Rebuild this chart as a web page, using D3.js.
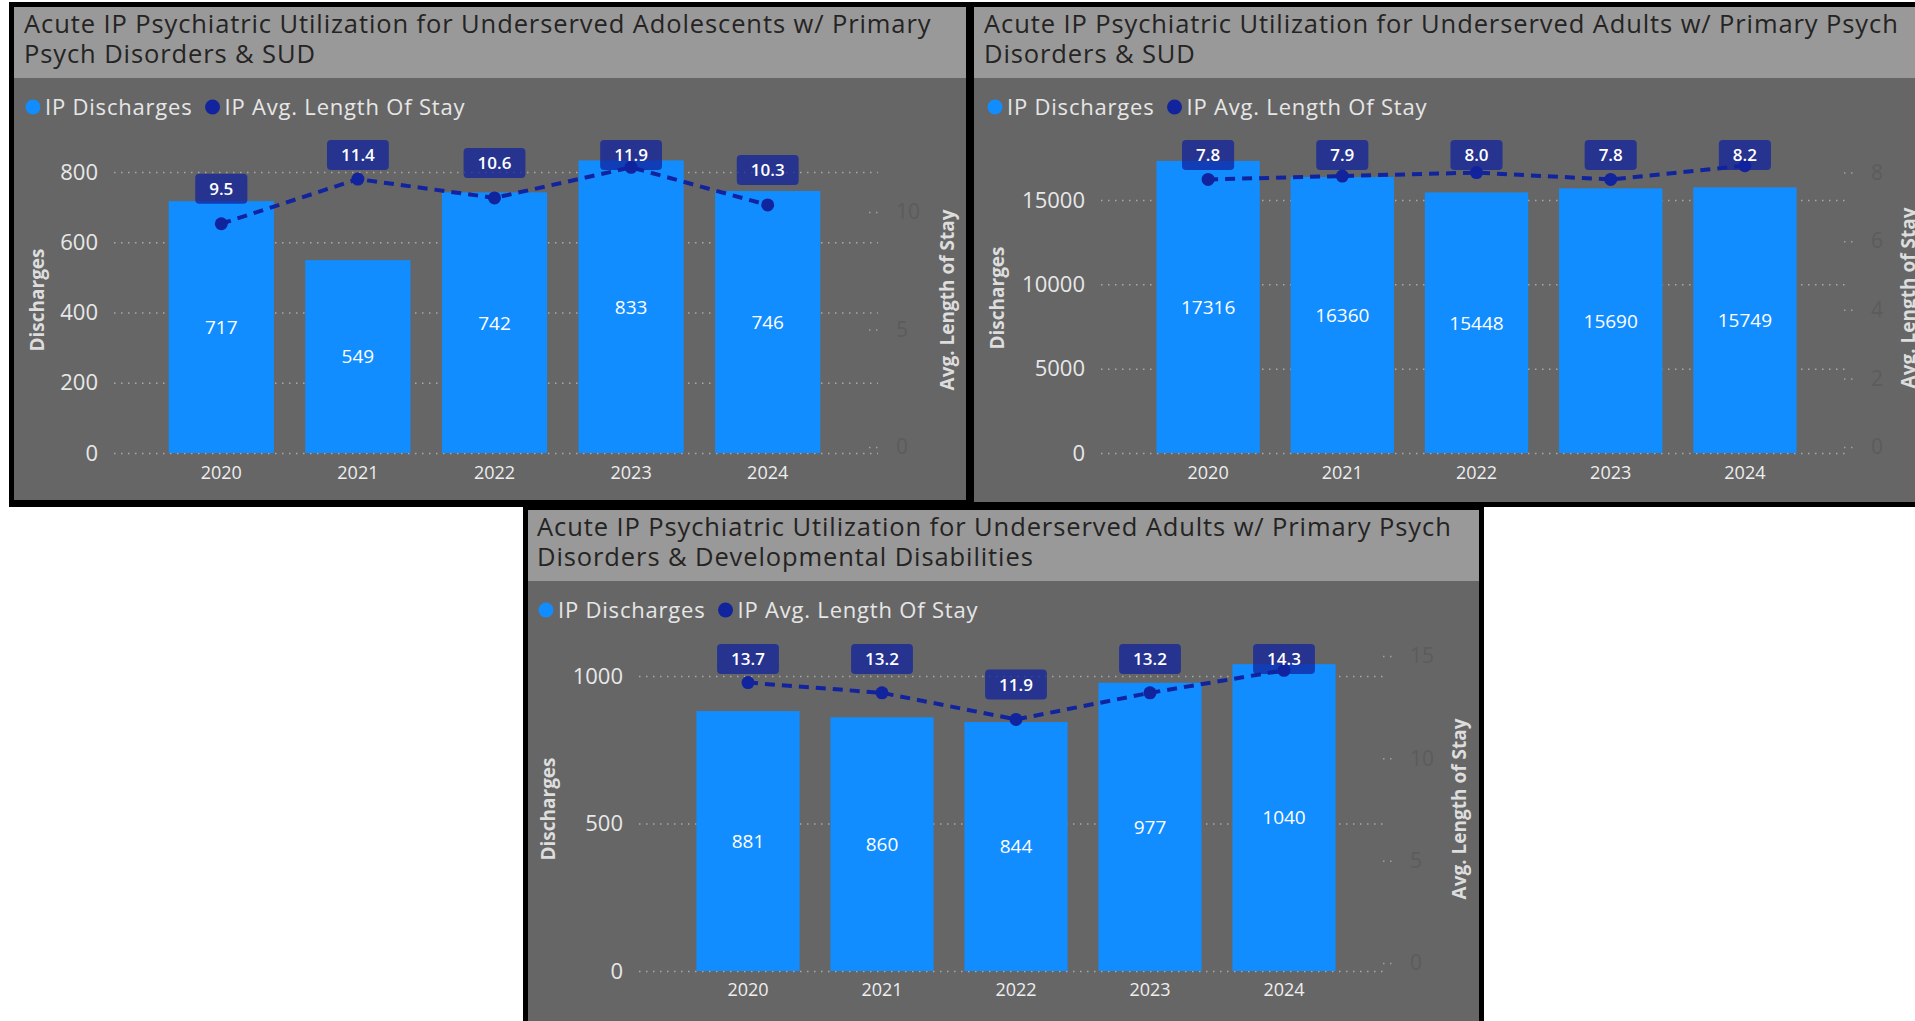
<!DOCTYPE html>
<html>
<head>
<meta charset="utf-8">
<script src="https://cdn.jsdelivr.net/npm/d3@7"></script>
<style>
  body { margin: 0; background: #ffffff; }
  svg { display: block; }
</style>
</head>
<body>
<div id="dashboard"></div>
<script>
// ---- data ----
const years = ["2020", "2021", "2022", "2023", "2024"];

const adolTitle = ["Acute IP Psychiatric Utilization for Underserved Adolescents w/ Primary", "Psych Disorders & SUD"];
const adolDischarges = [717, 549, 742, 833, 746];
const adolLos = [9.5, 11.4, 10.6, 11.9, 10.3];
const adolLeftTicks = [0, 200, 400, 600, 800];
const adolRightTicks = [0, 5, 10];

const sudTitle = ["Acute IP Psychiatric Utilization for Underserved Adults w/ Primary Psych", "Disorders & SUD"];
const sudDischarges = [17316, 16360, 15448, 15690, 15749];
const sudLos = [7.8, 7.9, 8.0, 7.8, 8.2];
const sudLeftTicks = [0, 5000, 10000, 15000];
const sudRightTicks = [0, 2, 4, 6, 8];

const ddTitle = ["Acute IP Psychiatric Utilization for Underserved Adults w/ Primary Psych", "Disorders & Developmental Disabilities"];
const ddDischarges = [881, 860, 844, 977, 1040];
const ddLos = [13.7, 13.2, 11.9, 13.2, 14.3];
const ddLeftTicks = [0, 500, 1000];
const ddRightTicks = [0, 5, 10, 15];

const legendNames = ["IP Discharges", "IP Avg. Length Of Stay"];

// colours (Power BI default theme on a dark grey card)
const barColor = "#118DFF";
const lineColor = "#12239E";
const cardBg = "#666666";
const titleBg = "#999999";
const font = "'Open Sans', 'Liberation Sans', sans-serif";

const svg = d3.select("#dashboard")
  .append("svg")
  .attr("width", 1915)
  .attr("height", 1021);

// black frames behind the cards
svg.append("rect").attr("x", 9).attr("y", 2).attr("width", 1910).attr("height", 505).attr("fill", "#000");
svg.append("rect").attr("x", 523).attr("y", 505).attr("width", 961).attr("height", 520).attr("fill", "#000");

function drawPanel(cfg, title, discharges, los, leftTicks, rightTicks) {
  const g = svg.append("g");

  g.append("rect")
    .attr("x", cfg.x).attr("y", cfg.y)
    .attr("width", cfg.w).attr("height", cfg.h)
    .attr("fill", cardBg);

  g.append("rect")
    .attr("x", cfg.x).attr("y", cfg.y)
    .attr("width", cfg.w).attr("height", 71)
    .attr("fill", titleBg);

  title.forEach((line, i) => {
    g.append("text")
      .attr("x", cfg.titleX)
      .attr("y", cfg.y + 26 + i * 30)
      .attr("fill", "#252423")
      .style("font-family", font)
      .style("font-size", "25.5px")
      .style("letter-spacing", "0.9px")
      .text(line);
  });

  // legend
  let lx = cfg.legendX;
  const ly = cfg.y + 100;
  [barColor, lineColor].forEach((c, i) => {
    g.append("circle").attr("cx", lx).attr("cy", ly).attr("r", 7.5).attr("fill", c);
    const t = g.append("text")
      .attr("x", lx + 12)
      .attr("y", ly)
      .attr("dy", "0.36em")
      .attr("fill", "#e6e6e6")
      .style("font-family", font)
      .style("font-size", "22px")
      .style("letter-spacing", "0.8px")
      .text(legendNames[i]);
    lx = lx + 12 + t.node().getComputedTextLength() + 20;
  });

  // scales
  const x = d3.scaleBand()
    .domain(years)
    .range(cfg.band)
    .paddingInner(0.23)
    .paddingOuter(0.115);

  const yLeft = d3.scaleLinear()
    .domain([0, d3.max(leftTicks)])
    .range(cfg.leftRange);

  const yRight = d3.scaleLinear()
    .domain([0, d3.max(rightTicks)])
    .range(cfg.rightRange);

  // left axis + dotted gridlines
  const leftAxis = g.append("g")
    .attr("transform", `translate(${cfg.gridX0},0)`)
    .call(d3.axisLeft(yLeft)
      .tickValues(leftTicks)
      .tickFormat(d3.format("d"))
      .tickSize(-(cfg.gridX1 - cfg.gridX0))
      .tickPadding(16));
  leftAxis.select(".domain").remove();
  leftAxis.selectAll("line")
    .attr("stroke", "#a8a8a8")
    .attr("stroke-width", 1.5)
    .attr("stroke-dasharray", "1.5,5.5");
  leftAxis.selectAll("text")
    .attr("fill", "#e8e8e8")
    .style("font-family", font)
    .style("font-size", "22px");

  // right axis (labels nearly invisible on the card)
  const rightAxis = g.append("g")
    .attr("transform", `translate(${cfg.rightAxisX},0)`)
    .call(d3.axisRight(yRight)
      .tickValues(rightTicks)
      .tickSize(11)
      .tickPadding(16));
  rightAxis.select(".domain").remove();
  rightAxis.selectAll("line")
    .attr("stroke", "#a0a0a0")
    .attr("stroke-width", 1.5)
    .attr("stroke-dasharray", "1.5,5.5");
  rightAxis.selectAll("text")
    .attr("fill", "#5c5c5c")
    .style("font-family", font)
    .style("font-size", "21px");

  // bars
  g.append("g")
    .selectAll("rect")
    .data(discharges)
    .join("rect")
    .attr("x", (d, i) => x(years[i]))
    .attr("y", (d) => yLeft(d))
    .attr("width", x.bandwidth())
    .attr("height", (d) => yLeft(0) - yLeft(d))
    .attr("fill", barColor);

  g.append("g")
    .selectAll("text")
    .data(discharges)
    .join("text")
    .attr("x", (d, i) => x(years[i]) + x.bandwidth() / 2)
    .attr("y", (d) => yLeft(d / 2))
    .attr("dy", "0.36em")
    .attr("text-anchor", "middle")
    .attr("fill", "#ffffff")
    .style("font-family", font)
    .style("font-size", "19px")
    .text((d) => d);

  // x axis labels
  const xAxis = g.append("g")
    .attr("transform", `translate(0,${cfg.xLabelY})`)
    .call(d3.axisBottom(x).tickSize(0).tickPadding(0));
  xAxis.select(".domain").remove();
  xAxis.selectAll("text")
    .attr("y", 0)
    .attr("dy", "0.36em")
    .attr("fill", "#eeeeee")
    .style("font-family", font)
    .style("font-size", "18px");

  // length of stay line
  const line = d3.line()
    .x((d, i) => x(years[i]) + x.bandwidth() / 2)
    .y((d) => yRight(d));

  g.append("path")
    .datum(los)
    .attr("d", line)
    .attr("fill", "none")
    .attr("stroke", lineColor)
    .attr("stroke-width", 4)
    .attr("stroke-dasharray", "10,7");

  g.append("g")
    .selectAll("circle")
    .data(los)
    .join("circle")
    .attr("cx", (d, i) => x(years[i]) + x.bandwidth() / 2)
    .attr("cy", (d) => yRight(d))
    .attr("r", 6.5)
    .attr("fill", lineColor);

  // data label boxes above the dots (pushed down when they hit the top)
  const fmt = d3.format(".1f");
  const boxH = 30;
  los.forEach((d, i) => {
    const cx = x(years[i]) + x.bandwidth() / 2;
    const top = Math.max(cfg.labelTop, yRight(d) - 20 - boxH);
    const t = g.append("text")
      .attr("x", cx)
      .attr("y", top + boxH / 2)
      .attr("dy", "0.36em")
      .attr("text-anchor", "middle")
      .attr("fill", "#ffffff")
      .style("font-family", font)
      .style("font-size", "17px")
      .style("font-weight", 600)
      .text(fmt(d));
    const w = t.node().getComputedTextLength() + 28;
    g.insert("rect", () => t.node())
      .attr("x", cx - w / 2)
      .attr("y", top)
      .attr("width", w)
      .attr("height", boxH)
      .attr("rx", 4)
      .attr("fill", lineColor)
      .attr("fill-opacity", 0.75);
  });

  // axis titles
  g.append("text")
    .attr("transform", `translate(${cfg.yTitleX},${cfg.yTitleY}) rotate(-90)`)
    .attr("text-anchor", "middle")
    .attr("dy", "0.36em")
    .attr("fill", "#dddddd")
    .style("font-family", font)
    .style("font-weight", "bold")
    .style("font-size", "19px")
    .text("Discharges");

  g.append("text")
    .attr("transform", `translate(${cfg.y2TitleX},${cfg.yTitleY}) rotate(-90)`)
    .attr("text-anchor", "middle")
    .attr("dy", "0.36em")
    .attr("fill", "#dddddd")
    .style("font-family", font)
    .style("font-weight", "bold")
    .style("font-size", "19px")
    .text("Avg. Length of Stay");
}

drawPanel({
  x: 14, y: 7, w: 952, h: 493,
  titleX: 24, legendX: 33,
  band: [153, 836], gridX0: 114, gridX1: 878,
  leftRange: [453, 172], rightRange: [447, 212], rightAxisX: 869,
  labelTop: 140, xLabelY: 473,
  yTitleX: 37, y2TitleX: 947, yTitleY: 300
}, adolTitle, adolDischarges, adolLos, adolLeftTicks, adolRightTicks);

drawPanel({
  x: 974, y: 7, w: 945, h: 495,
  titleX: 984, legendX: 995,
  band: [1141, 1812], gridX0: 1101, gridX1: 1848,
  leftRange: [453, 200], rightRange: [447, 172.6], rightAxisX: 1844,
  labelTop: 140, xLabelY: 473,
  yTitleX: 997, y2TitleX: 1908, yTitleY: 298
}, sudTitle, sudDischarges, sudLos, sudLeftTicks, sudRightTicks);

drawPanel({
  x: 528, y: 510, w: 951, h: 515,
  titleX: 537, legendX: 546,
  band: [681, 1351], gridX0: 639, gridX1: 1386,
  leftRange: [971, 676], rightRange: [963, 656], rightAxisX: 1383,
  labelTop: 644, xLabelY: 990,
  yTitleX: 548, y2TitleX: 1459, yTitleY: 809
}, ddTitle, ddDischarges, ddLos, ddLeftTicks, ddRightTicks);
</script>
</body>
</html>
